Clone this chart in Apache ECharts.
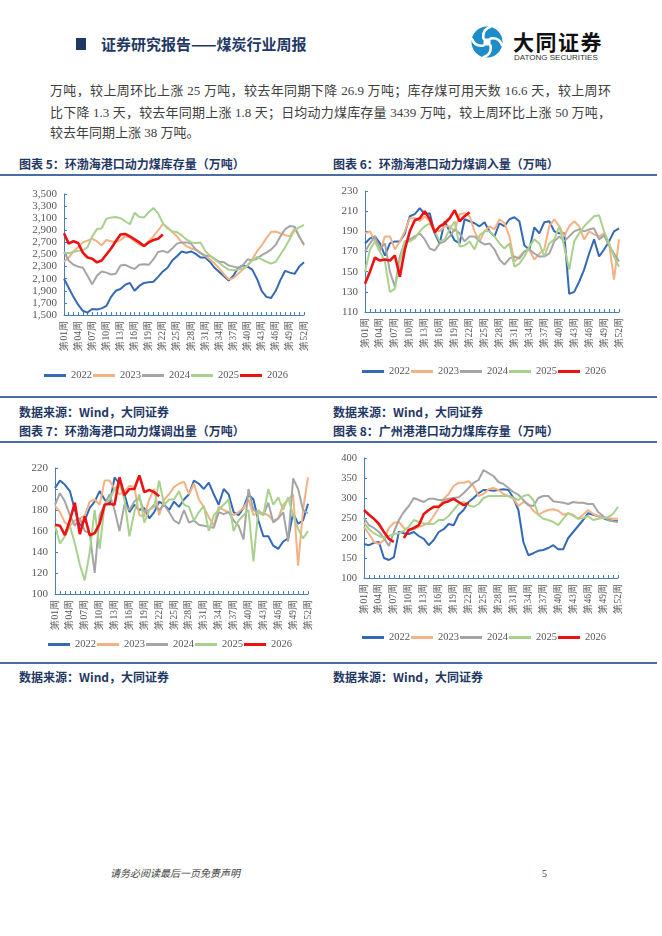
<!DOCTYPE html>
<html>
<head>
<meta charset="utf-8">
<script src="https://cdn.jsdelivr.net/npm/echarts@6/dist/echarts.min.js"></script>
<style>
html, body { margin: 0; padding: 0; background: #fff; }
body { width: 662px; height: 936px; position: relative; overflow: hidden;
  font-family: "Liberation Serif", "Noto Sans CJK SC", serif; }
.abs { position: absolute; white-space: nowrap; }
.rule { position: absolute; left: 0; width: 657px; height: 2px; background: #4a6da3; }
.ttl { position: absolute; font-family: "Noto Sans CJK SC", sans-serif; font-weight: 700;
  font-size: 12px; line-height: 16px; color: #1f3864; white-space: nowrap; }
.para { position: absolute; left: 50px; width: 561px; font-size: 13px; line-height: 18px; color: #404040; }
.just { text-align: justify; text-align-last: justify; }
.chart { position: absolute; width: 331px; }
</style>
</head>
<body>

<div class="abs" style="left:76px;top:38px;width:10px;height:12px;background:#1f3864"></div>
<div class="abs" style="left:101px;top:34px;font-family:'Noto Sans CJK SC';font-weight:700;font-size:15px;line-height:20px;color:#1f3864">证券研究报告——煤炭行业周报</div>

<svg class="abs" style="left:470px;top:26px" width="34" height="32" viewBox="0 0 34 32">
  <circle cx="17" cy="16" r="15.5" fill="#1d8cc8"/>
  <rect x="13.5" y="12.5" width="7" height="7" fill="#fff"/>
  <g stroke="#fff" stroke-width="2.6" fill="none" stroke-linecap="round">
    <path d="M13.5 12.5 Q 12 4 20 1"/>
    <path d="M20.5 12.5 Q 29 11 32 19"/>
    <path d="M20.5 19.5 Q 22 28 14 31"/>
    <path d="M13.5 19.5 Q 5 21 2 13"/>
  </g>
</svg>
<div class="abs" style="left:513px;top:28px;font-family:'Noto Sans CJK SC';font-weight:700;font-size:21px;line-height:26px;letter-spacing:1.5px;color:#111">大同证券</div>
<div class="abs" style="left:514px;top:53px;font-family:'Liberation Sans';font-size:8px;line-height:10px;color:#333">DATONG SECURITIES</div>

<div class="para just" style="top:82px">万吨，较上周环比上涨 25 万吨，较去年同期下降 26.9 万吨；库存煤可用天数 16.6 天，较上周环</div>
<div class="para just" style="top:104px">比下降 1.3 天，较去年同期上涨 1.8 天；日均动力煤库存量 3439 万吨，较上周环比上涨 50 万吨，</div>
<div class="para" style="top:124px">较去年同期上涨 38 万吨。</div>

<div class="ttl" style="left:19px;top:156px">图表 5：环渤海港口动力煤库存量（万吨）</div>
<div class="ttl" style="left:333px;top:156px">图表 6：环渤海港口动力煤调入量（万吨）</div>
<div class="rule" style="top:174px"></div>

<div id="c5" class="chart" style="left:0;top:180px;height:214px"></div>
<div id="c6" class="chart" style="left:331px;top:180px;height:214px"></div>

<div class="rule" style="top:396px"></div>
<div class="ttl" style="left:19px;top:404px">数据来源：Wind，大同证券</div>
<div class="ttl" style="left:333px;top:404px">数据来源：Wind，大同证券</div>
<div class="ttl" style="left:19px;top:423px">图表 7：环渤海港口动力煤调出量（万吨）</div>
<div class="ttl" style="left:333px;top:423px">图表 8：广州港港口动力煤库存量（万吨）</div>
<div class="rule" style="top:441px"></div>

<div id="c7" class="chart" style="left:0;top:445px;height:215px"></div>
<div id="c8" class="chart" style="left:331px;top:445px;height:215px"></div>

<div class="rule" style="top:662px"></div>
<div class="ttl" style="left:19px;top:669px">数据来源：Wind，大同证券</div>
<div class="ttl" style="left:333px;top:669px">数据来源：Wind，大同证券</div>

<div class="abs" style="left:110px;top:867px;font-size:10px;line-height:13px;font-style:italic;color:#444">请务必阅读最后一页免责声明</div>
<div class="abs" style="left:542px;top:867px;font-size:10px;line-height:13px;color:#444">5</div>

<script>
// week labels
var weeks = [];
for (var i = 1; i <= 52; i++) weeks.push('第' + (i < 10 ? '0' + i : i) + '周');

var years = ['2022', '2023', '2024', '2025', '2026'];
var colors = ['#3469b6', '#f4b183', '#a5a5a5', '#a9d18e', '#ee1111'];

// 图表5 环渤海港口动力煤库存量
var stock22 = [2100,1950,1800,1670,1570,1540,1600,1590,1610,1650,1800,1900,1930,2000,2030,1900,1980,2030,2040,2050,2130,2220,2280,2400,2470,2550,2530,2550,2510,2450,2450,2380,2280,2210,2140,2070,2150,2280,2320,2300,2250,2100,1900,1800,1780,1900,2080,2230,2200,2180,2300,2370];
var stock23 = [2380,2450,2550,2620,2700,2730,2760,2720,2650,2740,2720,2700,2740,2800,2780,2720,2660,2640,2720,2800,2900,3000,2950,2870,2800,2700,2640,2600,2580,2530,2480,2420,2350,2270,2170,2090,2110,2180,2250,2320,2420,2550,2650,2770,2870,2880,2850,2820,2800,2930,2800,2650];
var stock24 = [2540,2400,2330,2300,2280,2150,2010,2150,2220,2200,2170,2180,2320,2330,2290,2260,2330,2340,2330,2420,2540,2560,2530,2600,2680,2700,2700,2680,2580,2520,2480,2480,2430,2380,2370,2320,2300,2280,2320,2420,2400,2430,2490,2530,2580,2660,2800,2920,2970,2960,2790,2670];
var stock25 = [2530,2520,2540,2560,2570,2620,2800,2920,2930,3090,3110,3120,3100,3050,3000,3190,3120,3110,3200,3270,3180,3020,2930,2880,2870,2820,2750,2700,2690,2700,2560,2480,2420,2360,2300,2250,2240,2250,2270,2320,2400,2460,2420,2380,2350,2380,2500,2620,2760,2900,2950,2990];
var stock26 = [2850,2680,2720,2690,2530,2450,2430,2370,2400,2500,2600,2720,2830,2840,2800,2750,2700,2640,2700,2740,2760,2830];

// 图表6 环渤海港口动力煤调入量
var in22 = [178,183,185,178,166,178,180,180,188,205,207,213,207,208,188,178,200,190,181,178,202,200,198,195,199,190,185,198,195,202,204,200,176,172,194,188,199,200,190,188,188,128,130,140,152,168,182,165,172,180,190,193];
var in23 = [188,190,180,170,185,185,172,180,190,203,203,200,205,200,192,190,195,195,190,207,208,205,190,180,190,195,192,202,198,185,160,165,170,172,162,168,172,195,202,195,185,195,200,195,182,190,187,185,188,178,142,182];
var in24 = [170,178,185,172,178,150,135,165,180,182,185,188,182,173,171,178,180,185,192,188,180,185,185,180,177,178,172,162,157,163,165,163,170,172,168,165,165,168,180,185,180,185,190,192,190,192,193,182,186,176,168,160];
var in25 = [150,172,180,170,160,130,133,160,180,180,183,190,195,198,190,180,182,192,200,175,176,180,172,186,190,190,185,178,173,178,155,158,165,175,182,178,165,178,182,195,175,152,180,188,195,200,205,206,190,178,165,155];
var in26 = [138,150,164,161,162,161,166,145,172,190,201,203,210,202,189,195,198,203,211,200,205,209];

// 图表7 环渤海港口动力煤调出量
var out22 = [201,208,204,198,180,165,170,182,188,198,190,185,211,205,195,178,185,180,182,172,178,188,185,180,188,183,190,195,208,205,200,206,195,185,200,195,178,175,182,195,190,170,155,155,146,143,150,153,177,167,170,186];
var out23 = [184,178,168,165,170,172,175,188,190,185,208,208,200,195,198,203,202,175,174,190,200,175,190,195,202,205,207,195,205,190,183,173,165,183,180,178,175,178,182,190,175,178,177,175,170,172,185,190,195,127,180,211];
var out24 = [185,196,188,175,165,172,160,158,120,175,185,195,180,160,185,180,188,192,178,180,185,180,185,178,170,167,180,168,170,166,165,164,163,178,176,178,170,165,152,200,180,178,175,187,168,172,178,150,210,200,180,177];
var out25 = [165,148,155,165,148,128,113,140,180,143,185,190,200,205,190,155,178,195,168,180,183,208,185,190,190,198,185,183,170,178,184,160,175,180,185,190,160,170,175,180,131,180,175,200,185,192,180,192,175,162,153,160];
var out26 = [166,165,156,170,187,157,174,156,158,167,185,186,185,211,194,200,200,213,197,199,197,193];

// 图表8 广州港港口动力煤库存量
var gz22 = [185,182,188,190,150,145,152,216,212,210,215,205,198,182,195,215,222,235,232,258,270,290,300,312,320,320,318,320,322,320,300,270,190,157,162,168,170,175,182,172,172,200,215,230,245,262,258,255,250,245,243,242];
var gz23 = [228,210,190,185,195,225,238,240,225,220,222,228,232,238,255,275,298,310,330,338,338,342,330,305,310,322,325,320,310,305,298,280,290,285,268,258,265,270,272,268,258,262,258,248,258,270,260,255,250,250,248,248];
var gz24 = [250,232,225,215,200,180,215,245,265,280,300,295,290,298,298,295,295,298,300,302,312,325,338,345,370,362,355,340,335,325,315,308,295,282,280,300,305,305,292,290,288,285,290,288,288,285,285,265,255,245,242,240];
var gz25 = [238,222,212,205,200,205,210,212,218,228,245,240,236,235,235,245,245,255,270,285,290,282,278,285,300,305,305,305,305,305,300,295,305,308,295,258,248,245,240,232,248,262,255,248,250,255,245,248,250,252,260,278];
var gz26 = [270,258,248,235,215,198,190,null,200,220,225,232,260,270,278,278,288,292,298,290,282,288];

var axisColor = '#4a7ebb';
var labelColor = '#595959';

function lineChart(id, data, cfg) {
  var chart = echarts.init(document.getElementById(id));
  var series = years.map(function (y, i) {
    return {
      name: y, type: 'line', data: data[i], symbol: 'none',
      lineStyle: { width: i === 4 ? 2.6 : 2, color: colors[i] },
      itemStyle: { color: colors[i] }
    };
  });
  chart.setOption({
    animation: false,
    grid: cfg.grid,
    legend: {
      left: cfg.legendLeft, top: cfg.legendTop, padding: 0,
      icon: 'rect', itemWidth: 22, itemHeight: 3, itemGap: 1,
      textStyle: { fontFamily: 'Liberation Serif', fontSize: 10.5, color: labelColor },
      data: years
    },
    xAxis: {
      type: 'category', data: weeks, boundaryGap: false,
      axisLine: { lineStyle: { color: axisColor, width: 1 } },
      axisTick: { inside: true, interval: 0, length: 3, lineStyle: { color: axisColor } },
      axisLabel: { interval: 2, rotate: 90, margin: 6, fontSize: 9.5, color: labelColor,
        fontFamily: 'Liberation Serif' }
    },
    yAxis: {
      type: 'value', min: cfg.min, max: cfg.max, interval: cfg.interval,
      axisLine: { show: true, lineStyle: { color: axisColor, width: 1 } },
      axisTick: { show: true, inside: true, length: 3, lineStyle: { color: axisColor } },
      splitLine: { show: false },
      axisLabel: { margin: 7, fontSize: cfg.fontSize || 11, color: labelColor,
        fontFamily: 'Liberation Serif', formatter: cfg.formatter }
    },
    series: series
  });
  return chart;
}

lineChart('c5', [stock22, stock23, stock24, stock25, stock26], {
  grid: { left: 64, right: 27, top: 14, bottom: 79 },
  min: 1500, max: 3500, interval: 200,
  formatter: function (v) { return echarts.format.addCommas(v); },
  legendLeft: 44, legendTop: 190
});
lineChart('c6', [in22, in23, in24, in25, in26], {
  grid: { left: 34, right: 43, top: 11, bottom: 82 },
  min: 110, max: 230, interval: 20,
  legendLeft: 31, legendTop: 186
});
lineChart('c7', [out22, out23, out24, out25, out26], {
  grid: { left: 55, right: 23, top: 23, bottom: 66 },
  min: 100, max: 220, interval: 20,
  legendLeft: 48, legendTop: 194
});
lineChart('c8', [gz22, gz23, gz24, gz25, gz26], {
  grid: { left: 33, right: 44, top: 13, bottom: 82 },
  min: 100, max: 400, interval: 50, fontSize: 10.5,
  legendLeft: 31, legendTop: 187
});
</script>
</body>
</html>
